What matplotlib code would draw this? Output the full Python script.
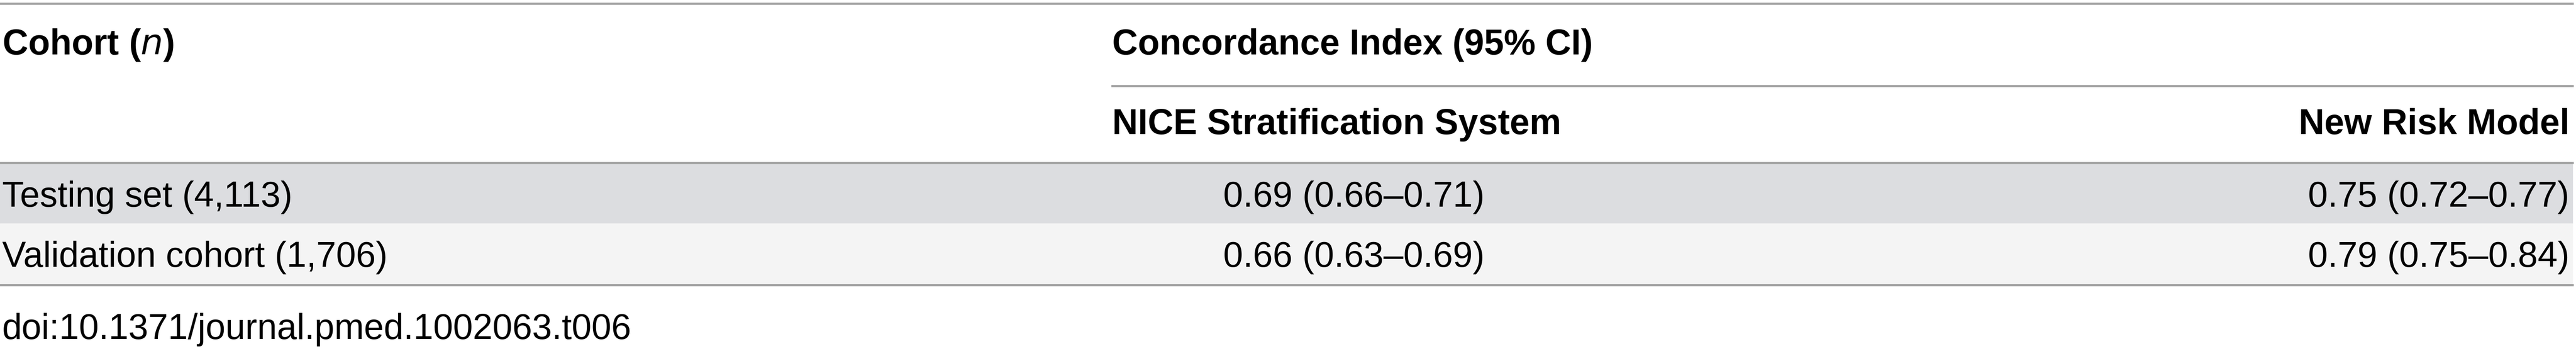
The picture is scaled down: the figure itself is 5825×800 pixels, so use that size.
import matplotlib
matplotlib.use("Agg")
import matplotlib.pyplot as plt
from matplotlib.patches import Rectangle

W, H = 5825, 800

col_header = "Cohort ($\\it{n}$)"
group_header = "Concordance Index (95% CI)"
sub_headers = ["NICE Stratification System", "New Risk Model"]
cohorts = ["Testing set (4,113)", "Validation cohort (1,706)"]
nice_ci = ["0.69 (0.66\u20130.71)", "0.66 (0.63\u20130.69)"]
new_ci = ["0.75 (0.72\u20130.77)", "0.79 (0.75\u20130.84)"]
footer = "doi:10.1371/journal.pmed.1002063.t006"

plt.rcParams["font.family"] = ["Liberation Sans", "DejaVu Sans"]
fig = plt.figure(figsize=(W / 100, H / 100), dpi=100)
ax = fig.add_axes([0, 0, 1, 1])
ax.set_xlim(0, W)
ax.set_ylim(H, 0)
ax.axis("off")

fs = 58
line_kw = dict(color="#a3a3a3", lw=3.5)

# rules
ax.plot([0, W - 8], [8, 8], **line_kw)
ax.plot([2515, W - 8], [194, 194], **line_kw)
ax.plot([0, W - 8], [368, 368], **line_kw)
ax.plot([0, W - 8], [644, 644], **line_kw)

# row bands
band_colors = ["#dcdde0", "#f4f4f4"]
band_tops = [370, 505]
for top, c in zip(band_tops, band_colors):
    ax.add_patch(Rectangle((0, top), W - 8, 135, color=c, zorder=0))

ax.text(5, 102, col_header, fontsize=fs, fontweight="bold", va="center")
ax.text(2515, 102, group_header, fontsize=fs, fontweight="bold", va="center")
ax.text(2515, 282, sub_headers[0], fontsize=fs, fontweight="bold", va="center")
ax.text(5810, 282, sub_headers[1], fontsize=fs, fontweight="bold", va="center", ha="right")

row_y = [446, 582]
for y, name, a, b in zip(row_y, cohorts, nice_ci, new_ci):
    ax.text(5, y, name, fontsize=fs, va="center")
    ax.text(3357, y, a, fontsize=fs, va="center", ha="right")
    ax.text(5810, y, b, fontsize=fs, va="center", ha="right")

ax.text(5, 745, footer, fontsize=fs, va="center")

fig.savefig("out.png", dpi=100)
